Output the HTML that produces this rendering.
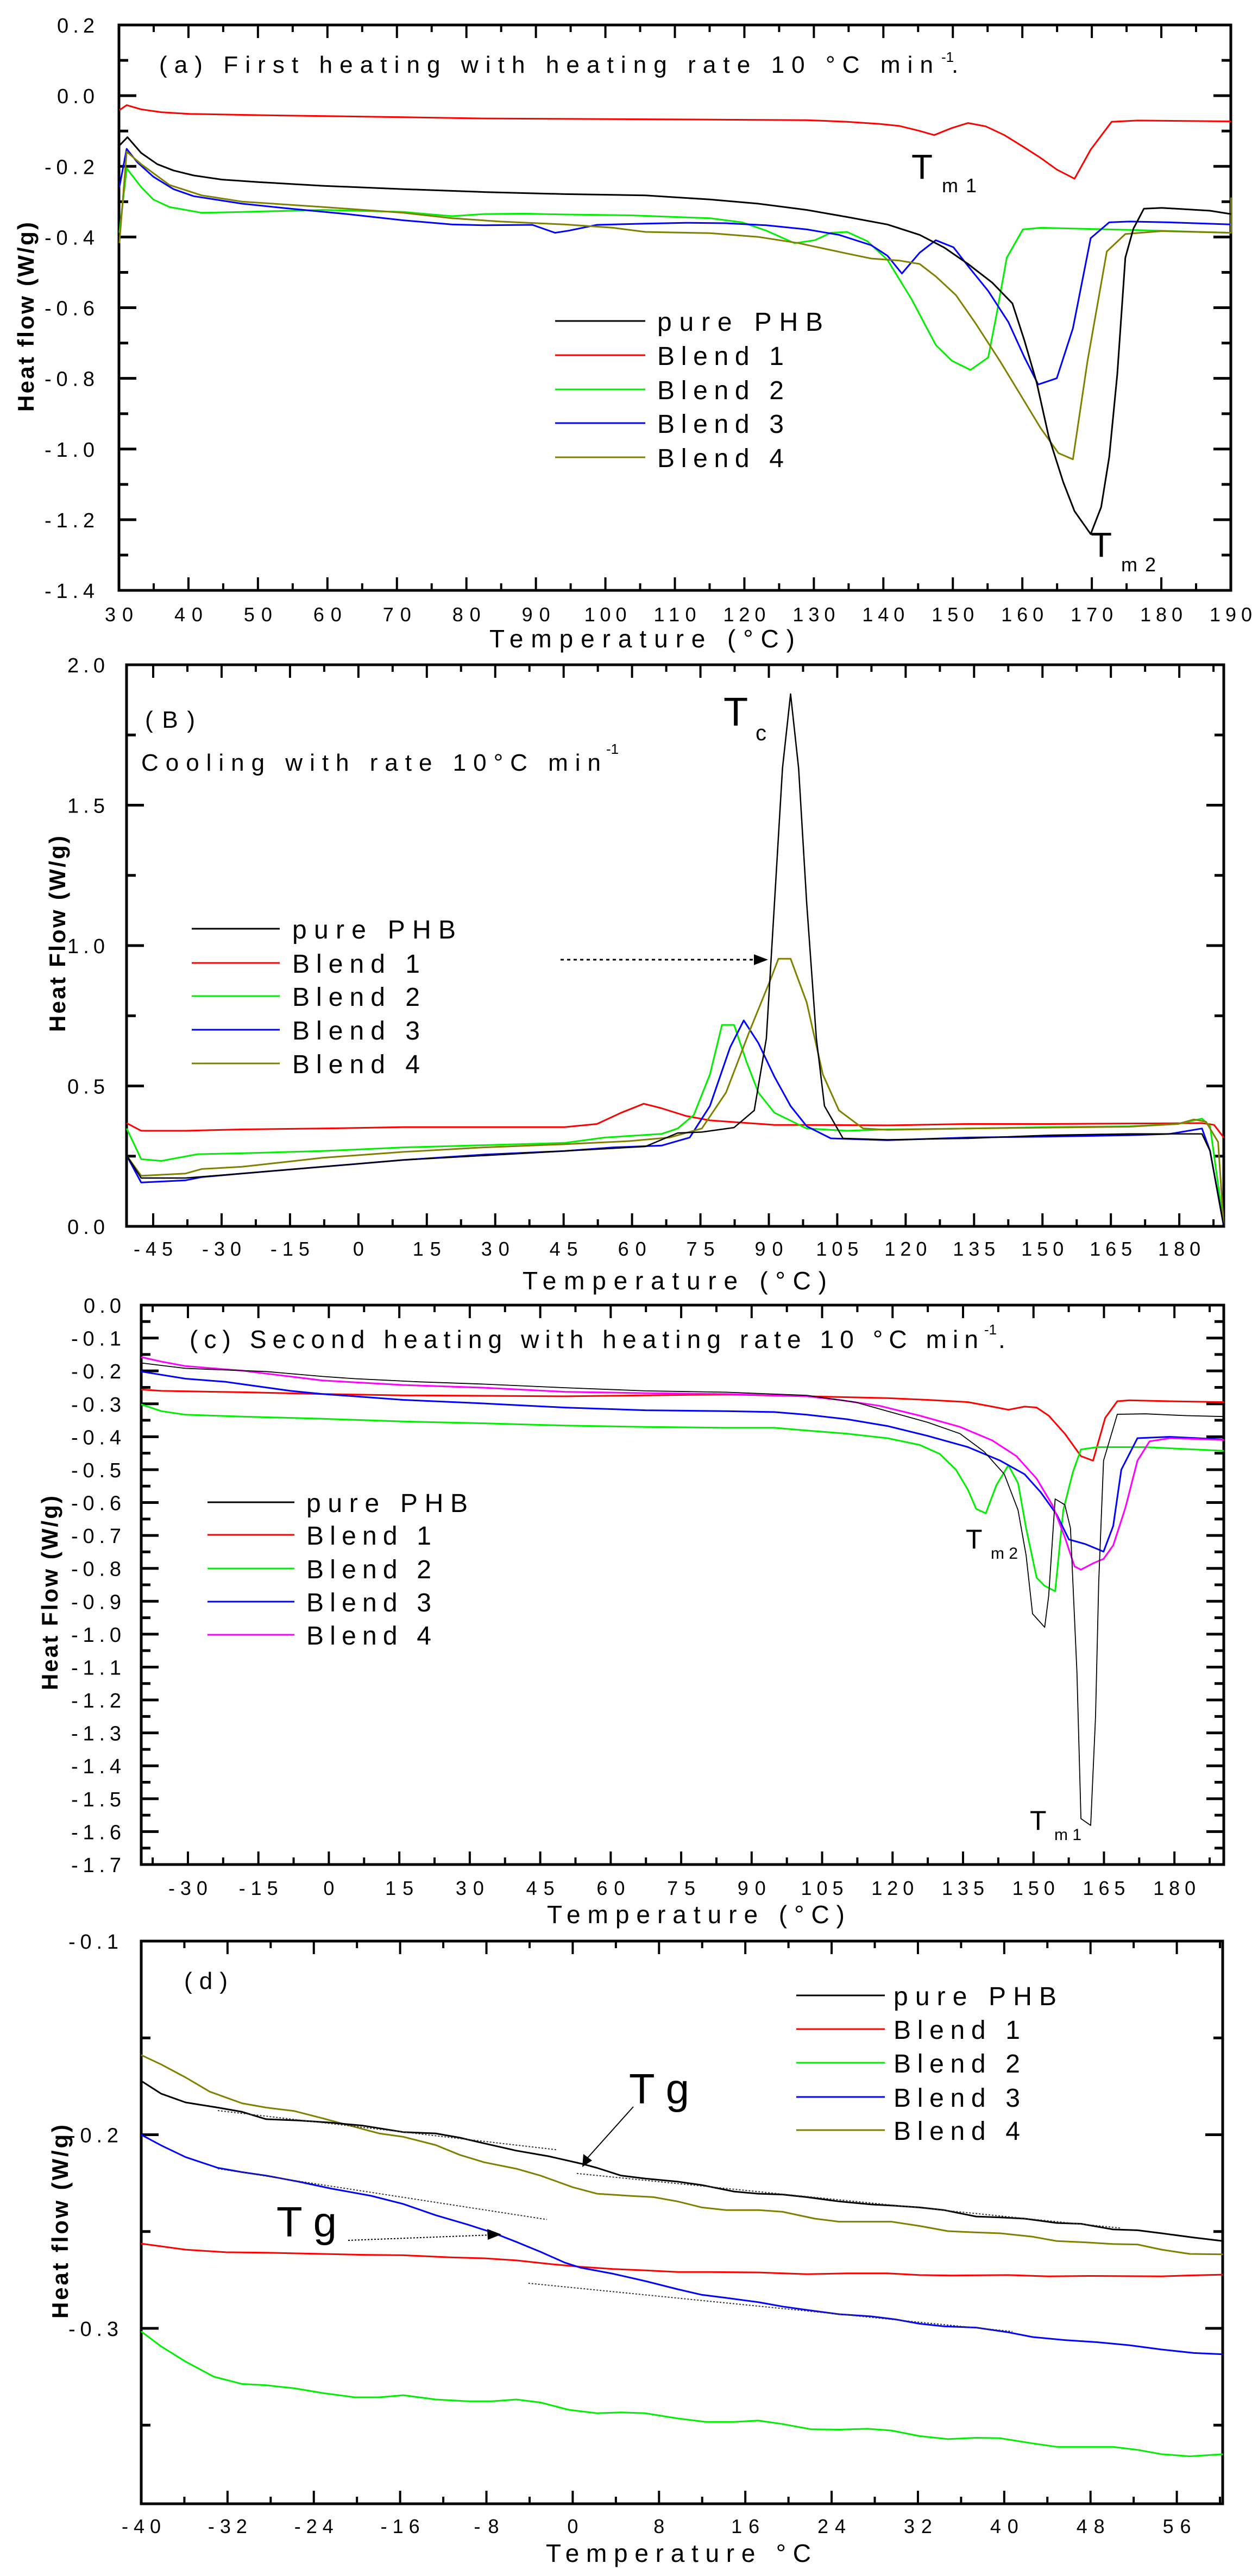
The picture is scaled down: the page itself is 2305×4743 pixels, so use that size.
<!DOCTYPE html>
<html><head><meta charset="utf-8"><style>
html,body{margin:0;padding:0;background:#fff;}
svg{display:block;font-family:"Liberation Sans",Arial,sans-serif;}
</style></head><body>
<svg id="s" xmlns="http://www.w3.org/2000/svg" width="2305" height="4743" viewBox="0 0 2305 4743">
<rect width="2305" height="4743" fill="#fff"/>
<g id="g"></g>
<!-- Panel a texts -->
<text x="293" y="134" font-size="44" textLength="1425" lengthAdjust="spacing">(a)  First heating with heating rate 10 °C min</text>
<text x="1733" y="114" font-size="26">-1</text><text x="1752" y="134" font-size="44">.</text>
<text x="1678" y="329" font-size="64">T</text><text x="1734" y="354" font-size="36" textLength="64" lengthAdjust="spacing">m1</text>
<text x="2008" y="1025" font-size="64">T</text><text x="2064" y="1052" font-size="36" textLength="64" lengthAdjust="spacing">m2</text>
<!-- Panel b texts -->
<text x="267" y="1340" font-size="44" textLength="92" lengthAdjust="spacing">(B)</text>
<text x="260" y="1419" font-size="44" textLength="846" lengthAdjust="spacing">Cooling with rate 10°C min</text>
<text x="1116" y="1388" font-size="26">-1</text>
<text x="1332" y="1336" font-size="74">T</text><text x="1391" y="1363" font-size="40">c</text>
<line x1="1032" y1="1767" x2="1390" y2="1767" stroke="#000" stroke-width="3" stroke-dasharray="6,6"/>
<polygon points="1388,1757 1414,1767 1388,1777" fill="#000"/>
<!-- Panel c texts -->
<text x="349" y="2482" font-size="46" textLength="1452" lengthAdjust="spacing">(c) Second heating with heating rate 10 °C min</text>
<text x="1812" y="2457" font-size="26">-1</text><text x="1838" y="2482" font-size="46">.</text>
<text x="1778" y="2851" font-size="50">T</text><text x="1824" y="2870" font-size="30" textLength="50" lengthAdjust="spacing">m2</text>
<text x="1896" y="3369" font-size="50">T</text><text x="1941" y="3388" font-size="30" textLength="50" lengthAdjust="spacing">m1</text>
<!-- Panel d texts -->
<text x="339" y="3662" font-size="44" textLength="80" lengthAdjust="spacing">(d)</text>
<text x="1158" y="3873" font-size="78" textLength="111" lengthAdjust="spacing">Tg</text>
<text x="509" y="4118" font-size="78" textLength="111" lengthAdjust="spacing">Tg</text>
<line x1="1166" y1="3879" x2="1080" y2="3975" stroke="#000" stroke-width="2"/>
<polygon points="1072,3990 1074,3966 1090,3978" fill="#000"/>
<line x1="641" y1="4125" x2="905" y2="4115" stroke="#000" stroke-width="2" stroke-dasharray="3,3"/>
<polygon points="923,4114 897,4104 898,4124" fill="#000"/>
</svg>
<script>
var NS="http://www.w3.org/2000/svg",G=document.getElementById('g');
function el(t,a,txt){var e=document.createElementNS(NS,t);for(var k in a)e.setAttribute(k,a[k]);if(txt!=null)e.textContent=txt;G.appendChild(e);return e;}
function fmt(v,d){var s=Math.abs(v).toFixed(d);return (v<-1e-9?'-':'')+s;}
function panel(p){
 var X=function(v){return p.L+(v-p.x0)/(p.x1-p.x0)*(p.R-p.L);};
 var Y=function(v){return p.B-(v-p.y0)/(p.y1-p.y0)*(p.B-p.T);};
 // x ticks
 var st=Math.ceil((p.x0-1e-6)/p.xmin);
 for(var i=st;i*p.xmin<=p.x1+1e-6;i++){var v=i*p.xmin,x=X(v);var maj=Math.abs(v/p.xmaj-Math.round(v/p.xmaj))<1e-6;var l=maj?24:13;
  el('line',{x1:x,y1:p.B,x2:x,y2:p.B-l,stroke:'#000','stroke-width':4});
  el('line',{x1:x,y1:p.T,x2:x,y2:p.T+l,stroke:'#000','stroke-width':4});
  if(maj&&v>=p.xl0-1e-6&&v<=p.xl1+1e-6){var s=String(Math.round(v));el('text',{x:x,y:p.xly,'font-size':36,'text-anchor':'middle',textLength:s.length*26+(s[0]=='-'?-6:0),lengthAdjust:'spacing'},s);}
 }
 st=Math.ceil((p.y0-1e-6)/p.ymin);
 for(var i=st;i*p.ymin<=p.y1+1e-6;i++){var v=i*p.ymin,y=Y(v);var maj=Math.abs(v/p.ymaj-Math.round(v/p.ymaj))<1e-6;var l=maj?32:17;
  el('line',{x1:p.L,y1:y,x2:p.L+l,y2:y,stroke:'#000','stroke-width':5});
  el('line',{x1:p.R,y1:y,x2:p.R-l,y2:y,stroke:'#000','stroke-width':5});
  if(maj){var s=fmt(v,1);el('text',{x:p.ylx,y:y+14,'font-size':38,'text-anchor':'end',textLength:s.length*23,lengthAdjust:'spacing'},s);}
 }
 el('rect',{x:p.L,y:p.T,width:p.R-p.L,height:p.B-p.T,fill:'none',stroke:'#000','stroke-width':5});
 // axis titles
 el('text',{x:p.xtx,y:p.xty,'font-size':46,textLength:p.xtw,lengthAdjust:'spacing'},p.xt);
 el('text',{x:0,y:0,'font-size':42,'font-weight':'bold',textLength:p.ytl,lengthAdjust:'spacing',transform:'translate('+p.ytx+','+p.yty+') rotate(-90)'},p.yt);
}
panel({L:219,R:2266,T:46,B:1087,x0:30,x1:190,y0:-1.4,y1:0.2,xmaj:10,xmin:5,ymaj:0.2,ymin:0.1,xl0:30,xl1:190,xly:1144,ylx:174,
 xt:'Temperature (°C)',xtx:901,xty:1192,xtw:562,yt:'Heat flow (W/g)',ytx:62,yty:758,ytl:349});
panel({L:233,R:2253,T:1224,B:2258,x0:-50.84,x1:189.75,y0:0,y1:2,xmaj:15,xmin:7.5,ymaj:0.5,ymin:0.25,xl0:-45,xl1:180,xly:2312,ylx:193,
 xt:'Temperature (°C)',xtx:962,xty:2374,xtw:560,yt:'Heat Flow (W/g)',ytx:120,yty:1900,ytl:361});
panel({L:260,R:2253,T:2403,B:3433,x0:-39.94,x1:190.5,y0:-1.7,y1:0,xmaj:15,xmin:7.5,ymaj:0.1,ymin:0.05,xl0:-30,xl1:180,xly:3489,ylx:223,
 xt:'Temperature (°C)',xtx:1007,xty:3541,xtw:548,yt:'Heat Flow (W/g)',ytx:106,yty:3112,ytl:358});
panel({L:260,R:2251,T:3574,B:4610,x0:-40,x1:60.25,y0:-0.3906,y1:-0.1,xmaj:8,xmin:4,ymaj:0.1,ymin:0.05,xl0:-40,xl1:56,xly:4664,ylx:218,
 xt:'Temperature °C',xtx:1005,xty:4717,xtw:488,yt:'Heat  flow (W/g)',ytx:125,yty:4269,ytl:357});

var SX=2305/1552;
function series(off,sy,col,pts,w){var a=pts.trim().split(/\s+/),o=[];for(var i=0;i<a.length;i++){var q=a[i].split(',');o.push((q[0]*SX).toFixed(1)+','+(off+q[1]*sy).toFixed(1));}
 el('polyline',{points:o.join(' '),fill:'none',stroke:col,'stroke-width':w||3,'stroke-linejoin':'round'});}
var K='#000',R='#ff0000',Gr='#00ee00',B='#0000ff',O='#808000',M='#ff00ff';
var s1=1200/1568;
series(0,s1,R,"148,265 157,253 175,263 200,270 235,274 320,277 500,282 600,285 800,287 1000,289 1050,293 1090,298 1115,303 1140,315 1158,325 1180,308 1200,296 1222,304 1245,325 1270,355 1290,380 1310,408 1332,430 1352,360 1378,293 1410,290 1526,292");
series(0,s1,Gr,"148,560 157,405 175,450 190,480 210,498 250,512 300,510 400,505 500,510 560,520 600,515 650,514 700,516 780,518 880,525 920,535 950,555 985,585 1010,578 1030,560 1050,558 1075,580 1100,625 1130,720 1160,830 1180,868 1203,890 1225,860 1235,760 1248,620 1268,552 1290,548 1400,553 1526,560");
series(0,s1,B,"148,450 157,358 170,390 190,425 215,455 240,472 300,490 350,500 430,515 500,530 560,540 600,542 660,541 688,560 705,555 740,541 800,538 850,536 900,537 950,542 1000,552 1040,565 1080,590 1100,615 1118,658 1140,608 1160,578 1182,595 1200,640 1225,700 1250,775 1270,860 1287,925 1310,910 1330,790 1352,573 1375,535 1400,533 1450,535 1526,540");
series(0,s1,O,"148,585 157,365 175,395 210,445 250,470 300,485 400,498 500,512 560,525 620,533 700,540 760,548 800,558 880,561 940,570 990,585 1050,610 1080,622 1115,627 1140,635 1160,665 1185,710 1210,780 1240,870 1265,950 1290,1030 1312,1090 1330,1105 1348,870 1372,605 1395,563 1440,556 1526,560 1526,475");
series(0,s1,K,"148,350 158,330 175,368 195,395 215,410 240,422 275,432 320,438 400,447 500,455 600,462 700,467 800,470 880,480 940,490 1000,505 1050,522 1100,540 1140,565 1170,595 1200,635 1230,680 1255,730 1270,820 1285,920 1300,1050 1318,1160 1332,1230 1352,1285 1365,1220 1375,1100 1385,900 1395,620 1405,550 1418,502 1440,500 1500,507 1526,515");
var s2=1300/1568;
series(1000,s2,R,"157,1288 175,1305 230,1305 300,1302 400,1300 500,1297 600,1297 700,1297 740,1290 770,1265 798,1245 820,1255 850,1272 880,1282 960,1292 1000,1292 1100,1293 1200,1290 1300,1290 1490,1288 1505,1292 1517,1320");
series(1000,s2,Gr,"157,1300 175,1368 200,1372 230,1362 245,1357 300,1355 400,1350 500,1342 600,1337 700,1332 750,1320 820,1312 840,1300 860,1270 880,1180 895,1070 910,1070 925,1150 940,1220 960,1265 1000,1300 1050,1305 1100,1302 1200,1300 1300,1297 1400,1295 1460,1290 1490,1278 1500,1295 1517,1517");
series(1000,s2,B,"157,1360 175,1420 230,1415 250,1408 300,1400 400,1385 500,1370 600,1358 700,1350 760,1342 820,1338 855,1320 880,1250 905,1120 922,1060 940,1110 960,1185 980,1250 1000,1295 1030,1322 1100,1326 1200,1320 1300,1318 1400,1315 1450,1312 1490,1300 1500,1350 1517,1517");
series(1000,s2,O,"157,1360 175,1405 230,1400 250,1390 300,1385 400,1365 500,1352 600,1342 700,1335 780,1328 830,1320 870,1300 900,1220 930,1080 955,970 965,923 980,923 1000,1020 1020,1180 1040,1260 1070,1300 1100,1303 1200,1300 1300,1298 1400,1296 1460,1290 1480,1280 1495,1285 1510,1330 1517,1517");
series(1000,s2,K,"157,1360 175,1410 230,1410 300,1400 400,1385 500,1370 600,1360 700,1350 800,1340 840,1310 870,1308 910,1298 935,1260 950,1100 960,800 970,500 980,335 990,500 1000,800 1012,1100 1022,1250 1045,1322 1100,1325 1200,1322 1300,1315 1400,1312 1490,1312 1500,1350 1517,1517",2.5);
var s3=1300/1568;
series(2250,s3,R,"175,372 200,375 300,378 400,382 500,385 700,387 900,383 1000,387 1100,391 1150,395 1200,400 1230,410 1250,417 1270,410 1285,412 1300,430 1320,470 1340,520 1355,530 1370,435 1385,398 1400,396 1450,398 1517,400");
series(2250,s3,Gr,"175,405 200,420 230,428 300,432 400,437 500,443 600,447 700,452 800,455 900,457 960,457 1000,463 1050,470 1100,480 1140,495 1165,515 1185,550 1200,595 1210,637 1222,647 1235,585 1250,540 1262,580 1272,680 1285,790 1295,808 1308,820 1318,640 1330,555 1340,505 1360,500 1420,500 1517,508");
series(2250,s3,B,"175,332 230,348 280,355 300,360 360,375 400,382 500,395 600,403 700,412 800,418 900,420 960,422 1000,428 1050,438 1100,453 1150,475 1200,500 1240,530 1270,560 1290,600 1310,650 1325,705 1345,715 1368,732 1380,675 1390,550 1410,480 1450,477 1517,483");
series(2250,s3,M,"175,300 200,310 230,320 300,330 400,352 500,362 600,368 700,377 800,380 900,382 960,385 1000,387 1040,395 1090,408 1140,430 1190,455 1230,485 1260,520 1285,570 1305,630 1320,700 1332,765 1340,772 1355,758 1368,748 1380,718 1395,635 1410,530 1425,487 1450,480 1517,484");
series(2250,s3,K,"175,313 230,325 330,332 400,343 440,348 520,355 600,360 700,368 800,375 900,378 1000,385 1060,400 1100,420 1150,445 1190,470 1220,510 1245,560 1262,640 1272,740 1280,870 1295,900 1300,830 1308,615 1320,628 1327,680 1335,1000 1340,1325 1352,1340 1358,1100 1362,800 1368,530 1385,427 1420,426 1470,430 1517,432",1.8);
var s4=1243/1568;
series(3500,s4,R,"175,796 230,810 280,816 330,817 400,820 450,822 500,823 560,828 600,830 640,835 680,843 720,850 760,855 800,858 840,862 880,862 940,863 1000,867 1050,865 1100,865 1140,869 1180,870 1250,869 1300,872 1350,871 1440,872 1470,870 1516,868");
series(3500,s4,Gr,"175,1000 200,1035 230,1070 265,1105 300,1122 330,1125 365,1132 400,1143 440,1153 470,1153 500,1148 540,1158 580,1162 610,1162 640,1158 670,1165 705,1182 740,1190 770,1188 800,1190 840,1202 875,1210 910,1210 940,1207 970,1215 1005,1227 1040,1228 1075,1226 1105,1230 1140,1243 1175,1250 1210,1247 1240,1248 1280,1260 1310,1268 1350,1268 1380,1268 1410,1275 1440,1285 1475,1290 1516,1285");
series(3500,s4,B,"175,543 200,568 230,595 270,620 300,630 330,638 370,652 410,668 460,685 500,704 540,730 580,752 610,770 640,792 670,815 700,840 720,852 760,866 800,883 840,902 870,915 900,922 940,932 970,942 1000,950 1040,960 1080,965 1110,972 1140,982 1170,988 1210,991 1250,1002 1280,1013 1320,1020 1360,1025 1400,1032 1440,1042 1480,1050 1516,1053");
series(3500,s4,O,"175,358 200,380 230,410 260,443 300,470 330,480 365,488 400,505 440,525 470,540 500,548 540,567 570,590 600,607 640,622 670,638 710,665 740,680 780,685 810,688 840,698 870,712 900,718 940,718 970,722 1010,738 1040,745 1070,745 1105,745 1140,755 1175,767 1210,770 1240,772 1280,780 1310,790 1345,793 1380,797 1410,798 1440,810 1475,820 1516,821");
series(3500,s4,K,"175,418 200,448 230,468 270,480 300,490 330,507 370,510 410,515 450,522 500,537 540,540 570,550 600,563 640,580 680,593 720,610 740,620 770,638 800,645 840,652 870,660 910,675 940,680 970,682 1000,688 1040,698 1080,705 1110,708 1140,712 1170,718 1210,733 1240,735 1270,738 1310,748 1340,750 1380,763 1410,765 1440,772 1480,782 1516,790");
// tangent dotted lines (d)
[["270,487","690,578"],["715,633","1390,760"],["270,622","678,740"],["655,888","1255,1000"]].forEach(function(s){var a=s[0].split(','),b=s[1].split(',');
 el('line',{x1:a[0]*SX,y1:3500+a[1]*s4,x2:b[0]*SX,y2:3500+b[1]*s4,stroke:'#333','stroke-width':2,'stroke-dasharray':'3,3'});});
// legends
function legend(x1,x2,tx,ys,cols,pw,bw){var names=['pure PHB','Blend 1','Blend 2','Blend 3','Blend 4'];
 for(var i=0;i<5;i++){el('line',{x1:x1,y1:ys[i],x2:x2,y2:ys[i],stroke:cols[i],'stroke-width':3});
  el('text',{x:tx,y:ys[i]+18,'font-size':48,textLength:i?bw:pw,lengthAdjust:'spacing'},names[i]);}}
legend(1022,1188,1210,[591,654,717,779,842],[K,R,Gr,B,O],305,233);
legend(353,515,538,[1710,1773,1834,1896,1958],[K,R,Gr,B,O],301,235);
legend(382,542,564,[2766,2826,2888,2949,3010],[K,R,Gr,B,M],297,230);
legend(1466,1629,1645,[3674,3736,3798,3861,3922],[K,R,Gr,B,O],300,233);
</script>
</body></html>
